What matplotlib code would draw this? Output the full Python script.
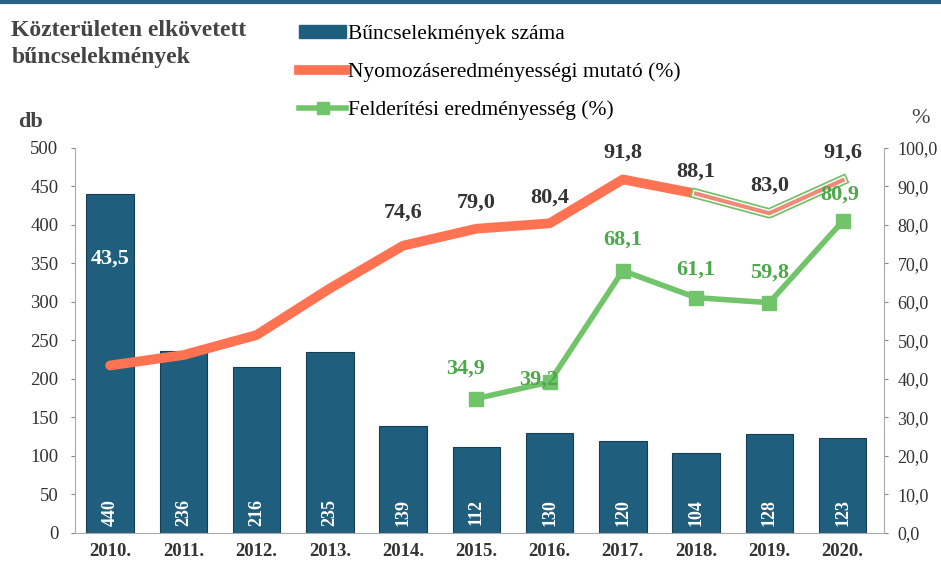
import matplotlib
matplotlib.use("Agg")
import matplotlib.pyplot as plt
import numpy as np
from matplotlib.lines import Line2D

years = ["2010.", "2011.", "2012.", "2013.", "2014.", "2015.", "2016.", "2017.", "2018.", "2019.", "2020."]
crimes = [440, 236, 216, 235, 139, 112, 130, 120, 104, 128, 123]
investigation = [43.5, 46.2, 51.4, 63.5, 74.6, 79.0, 80.4, 91.8, 88.1, 83.0, 91.6]
detection_years = ["2015.", "2016.", "2017.", "2018.", "2019.", "2020."]
detection = [34.9, 39.2, 68.1, 61.1, 59.8, 80.9]
inv_labels_shown = {0: "43,5", 4: "74,6", 5: "79,0", 6: "80,4", 7: "91,8", 8: "88,1", 9: "83,0", 10: "91,6"}

serif = "Liberation Serif"
plt.rcParams['font.family'] = [serif, 'DejaVu Serif']

bar_color = "#1f5f7d"
red = "#ff7352"
green = "#72c46a"
txt = "#333333"

fig = plt.figure(figsize=(9.41, 5.82), dpi=100)
ax = fig.add_axes([0.0797, 0.0842, 0.8593, 0.6618])
ax2 = ax.twinx()

x = np.arange(len(years))
ax.bar(x, crimes, width=0.65, color=bar_color, edgecolor="#163f55", linewidth=0.8, zorder=2)
for xi, v in zip(x, crimes):
    ax.text(xi, 27, str(v), rotation=90, ha="center", va="center", color="white",
            fontsize=13, fontweight="bold", zorder=3)

ax.set_ylim(0, 500)
ax.set_xlim(-0.48, 10.56)
ax.set_yticks(range(0, 501, 50))
ax.set_xticks(x)
ax.set_xticklabels(years, fontweight="bold", fontsize=13.5)
ax.tick_params(axis="y", labelsize=13.5, colors="#888888", labelcolor=txt, length=3, pad=9)
ax.tick_params(axis="x", length=0, pad=7, labelcolor=txt)
for s in ["top", "right"]:
    ax.spines[s].set_visible(False)
for s in ["left", "bottom"]:
    ax.spines[s].set_color("#aaaaaa")

ax2.set_ylim(0, 100)
ax2.set_yticks(range(0, 101, 10))
ax2.set_yticklabels([f"{v},0" for v in range(0, 101, 10)])
ax2.tick_params(axis="y", labelsize=13, colors="#888888", labelcolor=txt, length=3, pad=7)
for s in ["top", "left", "bottom"]:
    ax2.spines[s].set_visible(False)
ax2.spines["right"].set_color("#aaaaaa")

# investigation line
ax2.plot(x, investigation, color=red, linewidth=7, solid_capstyle="round", solid_joinstyle="round",
         zorder=3)
# scan artefact: green outline on last segment
seg = slice(8, 11)
ax2.plot(x[seg], investigation[seg], color=green, linewidth=7.5, solid_joinstyle="round", zorder=4)
ax2.plot(x[seg], investigation[seg], color="white", linewidth=5, solid_joinstyle="round", zorder=4)
ax2.plot(x[seg], investigation[seg], color="#f08a78", linewidth=3, solid_joinstyle="round", zorder=4)

dx = [years.index(y) for y in detection_years]
ax2.plot(dx, detection, color=green, linewidth=4, marker="s", markersize=10, zorder=5)

# labels
for i, lab in inv_labels_shown.items():
    if i == 0:
        ax2.text(i, investigation[i] + 27.7, lab, ha="center", va="center", color="white",
                 fontsize=16, fontweight="bold", zorder=6)
    else:
        off = {4: 8.5, 5: 6.7, 6: 6.6, 7: 6.9, 8: 5.7, 9: 7.1, 10: 7.1}[i]
        ax2.text(i, investigation[i] + off, lab, ha="center", va="center", color=txt,
                 fontsize=16, fontweight="bold", zorder=6)
det_offsets = [(-0.15, 7.7), (-0.15, 0.5), (0, 8.0), (0, 7.2), (0, 7.7), (-0.04, 6.9)]
for xi, v, (ox, oy) in zip(dx, detection, det_offsets):
    ax2.text(xi + ox, v + oy, f"{v:.1f}".replace(".", ","), ha="center", va="center", color="#4da84a",
             fontsize=16, fontweight="bold", zorder=6)

# legend
h1 = plt.Rectangle((0, 0), 1, 1, color=bar_color)
h2 = Line2D([], [], color=red, linewidth=7)
h3 = Line2D([], [], color=green, linewidth=4, marker="s", markersize=9)
fig.legend([h1, h2, h3], ["Bűncselekmények száma", "Nyomozáseredményességi mutató (%)",
                          "Felderítési eredményesség (%)"],
           loc="upper left", bbox_to_anchor=(0.297, 0.99), frameon=False, fontsize=15.5,
           handlelength=2.2, handletextpad=0.1, labelspacing=0.85, handleheight=0.55)

fig.text(0.012, 0.965, "Közterületen elkövetett\nbűncselekmények", ha="left", va="top",
         fontsize=17, fontweight="bold", color="#444444", linespacing=1.35)
fig.text(0.019, 0.79, "db", ha="left", va="center", fontsize=16, fontweight="bold", color="#444444")
fig.text(0.978, 0.797, "%", ha="center", va="center", fontsize=16, color="#444444")

fig.add_artist(Line2D([0, 1], [0.997, 0.997], transform=fig.transFigure, color="#2a5f86", linewidth=3))

fig.savefig("out.png", dpi=100)
